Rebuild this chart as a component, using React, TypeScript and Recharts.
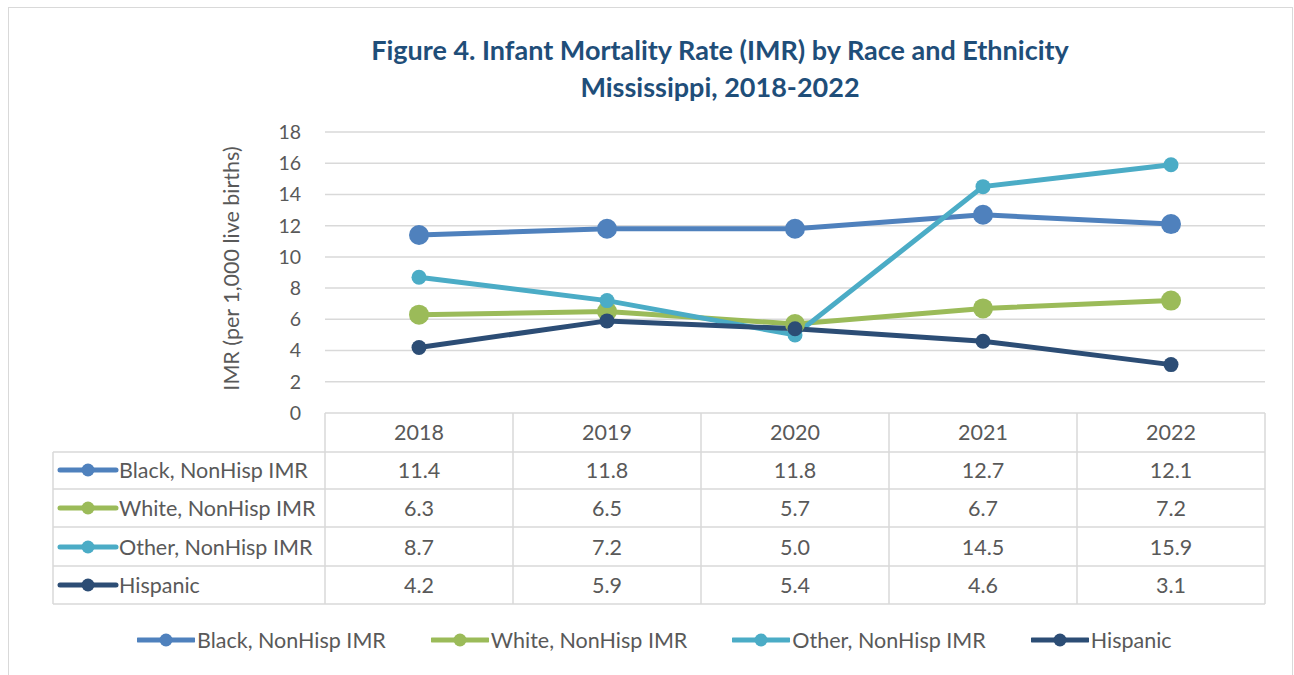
import React from 'react';
import { LineChart, Line, XAxis, YAxis, CartesianGrid, Legend } from 'recharts';

const YEARS = ['2018', '2019', '2020', '2021', '2022'];
const BLACK = [11.4, 11.8, 11.8, 12.7, 12.1];
const WHITE = [6.3, 6.5, 5.7, 6.7, 7.2];
const OTHER = [8.7, 7.2, 5.0, 14.5, 15.9];
const HISPANIC = [4.2, 5.9, 5.4, 4.6, 3.1];
const Y_TICKS = [0, 2, 4, 6, 8, 10, 12, 14, 16, 18];

const TITLE_1 = 'Figure 4. Infant Mortality Rate (IMR) by Race and Ethnicity';
const TITLE_2 = 'Mississippi, 2018-2022';
const Y_LABEL = 'IMR (per 1,000 live births)';

const SERIES = [
  { key: 'black', name: 'Black, NonHisp IMR', values: BLACK },
  { key: 'white', name: 'White, NonHisp IMR', values: WHITE },
  { key: 'other', name: 'Other, NonHisp IMR', values: OTHER },
  { key: 'hispanic', name: 'Hispanic', values: HISPANIC },
];

const STYLE: Record<string, { color: string; r: number }> = {
  black: { color: '#4F81BD', r: 10 },
  white: { color: '#9BBB59', r: 10 },
  other: { color: '#4BACC6', r: 7.5 },
  hispanic: { color: '#2C4D75', r: 7.5 },
};

const data = YEARS.map((y, i) => {
  const row: Record<string, string | number> = { year: y };
  SERIES.forEach((s) => {
    row[s.key] = s.values[i];
  });
  return row;
});

const W = 1294;
const H = 675;
const PLOT_LEFT = 325;
const PLOT_RIGHT = 1265;
const PLOT_TOP = 132;
const PLOT_BOTTOM = 413;
const Y_AXIS_W = 60;
const X_AXIS_H = 30;
const BAND = (PLOT_RIGHT - PLOT_LEFT) / YEARS.length;

const FONT = 'Lato, "Open Sans", sans-serif';
const TEXT = '#595959';
const GRID = '#d9d9d9';
const FS = 21.5;

const ROW_LINES = [452, 489, 527, 566, 604];
const HEADER_Y = 432;
const ROW_CENTERS = [470, 508, 547, 585];
const TABLE_LEFT = 53;

const KeyIcon = ({ x, y, color }: { x: number; y: number; color: string }) => (
  <g>
    <line x1={x} y1={y} x2={x + 56} y2={y} stroke={color} strokeWidth={5} strokeLinecap="round" />
    <circle cx={x + 28} cy={y} r={6.5} fill={color} />
  </g>
);

const TableTick = (props: any) => {
  const { payload, index } = props;
  const cx = payload.coordinate;
  const x0 = cx - BAND / 2;
  const x1 = cx + BAND / 2;
  const i = index;
  return (
    <g>
      <line x1={x0} y1={PLOT_BOTTOM} x2={x0} y2={ROW_LINES[ROW_LINES.length - 1]} stroke={GRID} strokeWidth={1.5} />
      {i === YEARS.length - 1 && (
        <line x1={x1} y1={PLOT_BOTTOM} x2={x1} y2={ROW_LINES[ROW_LINES.length - 1]} stroke={GRID} strokeWidth={1.5} />
      )}
      {ROW_LINES.map((ly) => (
        <line key={ly} x1={x0} y1={ly} x2={x1} y2={ly} stroke={GRID} strokeWidth={1.5} />
      ))}
      <text x={cx} y={HEADER_Y} textAnchor="middle" dominantBaseline="central" fill={TEXT} fontSize={FS} fontFamily={FONT}>
        {payload.value}
      </text>
      {SERIES.map((s, r) => (
        <text key={s.key} x={cx} y={ROW_CENTERS[r]} textAnchor="middle" dominantBaseline="central" fill={TEXT} fontSize={FS} fontFamily={FONT}>
          {s.values[i].toFixed(1)}
        </text>
      ))}
      {i === 0 && (
        <g>
          <line x1={TABLE_LEFT} y1={ROW_LINES[0]} x2={TABLE_LEFT} y2={ROW_LINES[ROW_LINES.length - 1]} stroke={GRID} strokeWidth={1.5} />
          {ROW_LINES.map((ly) => (
            <line key={ly} x1={TABLE_LEFT} y1={ly} x2={x0} y2={ly} stroke={GRID} strokeWidth={1.5} />
          ))}
          {SERIES.map((s, r) => (
            <g key={s.key}>
              <KeyIcon x={TABLE_LEFT + 7} y={ROW_CENTERS[r]} color={STYLE[s.key].color} />
              <text x={TABLE_LEFT + 66} y={ROW_CENTERS[r]} dominantBaseline="central" fill={TEXT} fontSize={FS} fontFamily={FONT}>
                {s.name}
              </text>
            </g>
          ))}
        </g>
      )}
    </g>
  );
};

const YLabel = (props: any) => {
  const vb = props.viewBox || {};
  const cy = (vb.y ?? PLOT_TOP) + (vb.height ?? PLOT_BOTTOM - PLOT_TOP) / 2 - 4;
  const cx = 231;
  return (
    <text
      x={cx}
      y={cy}
      transform={`rotate(-90, ${cx}, ${cy})`}
      textAnchor="middle"
      dominantBaseline="central"
      fill={TEXT}
      fontSize={FS}
      fontFamily={FONT}
    >
      {Y_LABEL}
    </text>
  );
};

const LegendContent = () => (
  <div style={{ display: 'flex', alignItems: 'center', paddingLeft: 137, gap: 45, fontFamily: FONT, fontSize: FS, color: TEXT }}>
    {SERIES.map((s) => (
      <div key={s.key} style={{ display: 'flex', alignItems: 'center' }}>
        <svg width={58} height={20} style={{ display: 'block' }}>
          <KeyIcon x={1} y={10} color={STYLE[s.key].color} />
        </svg>
        <span style={{ marginLeft: 2, lineHeight: '30px' }}>{s.name}</span>
      </div>
    ))}
  </div>
);

export default function App() {
  return (
    <div style={{ position: 'absolute', left: 0, top: 0, width: W, height: H, overflow: 'hidden', background: '#fff' }}>
      <div
        style={{
          position: 'absolute',
          left: 8,
          top: 7,
          width: 1285,
          height: 720,
          border: `1.5px solid ${GRID}`,
          boxSizing: 'border-box',
        }}
      />
      <div
        style={{
          position: 'absolute',
          left: 220,
          top: 31,
          width: 1000,
          textAlign: 'center',
          fontFamily: FONT,
          fontWeight: 700,
          fontSize: 27,
          lineHeight: '37px',
          color: '#1F4E79',
        }}
      >
        <div>{TITLE_1}</div>
        <div>{TITLE_2}</div>
      </div>
      <div style={{ position: 'absolute', left: 0, top: 0 }}>
        <LineChart
          width={W}
          height={H}
          data={data}
          margin={{
            top: PLOT_TOP,
            right: W - PLOT_RIGHT,
            left: PLOT_LEFT - Y_AXIS_W,
            bottom: H - PLOT_BOTTOM - X_AXIS_H,
          }}
        >
          <CartesianGrid vertical={false} stroke={GRID} strokeWidth={1.5} />
          <XAxis
            dataKey="year"
            axisLine={false}
            tickLine={false}
            interval={0}
            height={X_AXIS_H}
            padding={{ left: BAND / 2, right: BAND / 2 }}
            tick={<TableTick />}
          />
          <YAxis
            domain={[0, 18]}
            ticks={Y_TICKS}
            width={Y_AXIS_W}
            axisLine={false}
            tickLine={false}
            tickMargin={18}
            interval={0}
            tick={{ fill: TEXT, fontSize: 19.5, fontFamily: FONT }}
            label={<YLabel />}
          />
          <Legend
            layout="vertical"
            align="center"
            verticalAlign="middle"
            wrapperStyle={{ position: 'absolute', top: 625, left: 0, width: W }}
            content={<LegendContent />}
          />
          {SERIES.map((s) => (
            <Line
              key={s.key}
              dataKey={s.key}
              name={s.name}
              type="linear"
              stroke={STYLE[s.key].color}
              strokeWidth={5}
              dot={{ r: STYLE[s.key].r, fill: STYLE[s.key].color, stroke: 'none', strokeWidth: 0 }}
              activeDot={false}
              isAnimationActive={false}
            />
          ))}
        </LineChart>
      </div>
    </div>
  );
}
